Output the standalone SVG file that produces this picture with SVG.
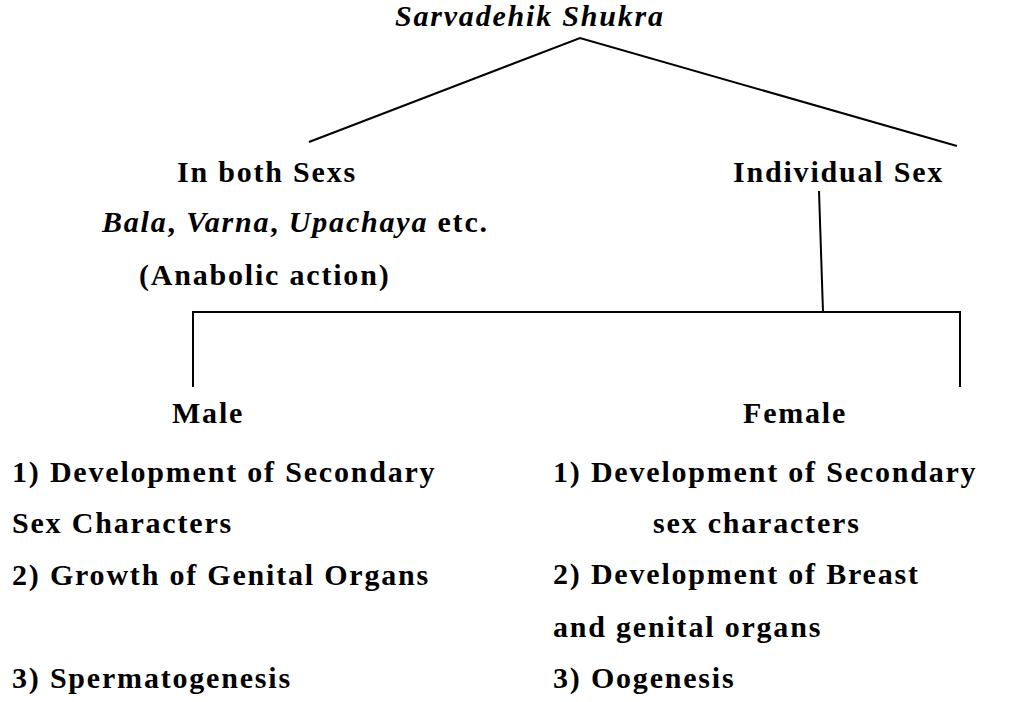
<svg xmlns="http://www.w3.org/2000/svg" width="1021" height="702" viewBox="0 0 1021 702">
<style>
text{font-family:"Liberation Serif","Times New Roman",serif;font-size:30px;font-weight:bold;letter-spacing:1.8px;fill:#000}
.i{font-style:italic}
.c{stroke:#000;stroke-width:2;fill:none}
</style>
<rect width="1021" height="702" fill="#fff"/>
<g id="connectors">
<polyline class="c" points="309,142 580,38 957,146"/>
<line class="c" x1="819" y1="191" x2="823" y2="312"/>
<polyline class="c" points="193,387 193,312 960,312 960,387"/>
</g>
<g id="root"><text class="i" x="395" y="26">Sarvadehik Shukra</text></g>
<g id="both">
<text x="177" y="182">In both Sexs</text>
<text x="102" y="232"><tspan class="i">Bala</tspan>, <tspan class="i">Varna</tspan>, <tspan class="i">Upachaya</tspan> etc.</text>
<text x="139" y="285">(Anabolic action)</text>
</g>
<g id="individual"><text x="733" y="182">Individual Sex</text></g>
<g id="male">
<text x="172" y="423">Male</text>
<text x="12" y="482">1) Development of Secondary</text>
<text x="12" y="533">Sex Characters</text>
<text x="12" y="585">2) Growth of Genital Organs</text>
<text x="12" y="688">3) Spermatogenesis</text>
</g>
<g id="female">
<text x="743" y="423">Female</text>
<text x="553" y="482">1) Development of Secondary</text>
<text x="653" y="533">sex characters</text>
<text x="553" y="584">2) Development of Breast</text>
<text x="553" y="637">and genital organs</text>
<text x="553" y="688">3) Oogenesis</text>
</g>
</svg>
